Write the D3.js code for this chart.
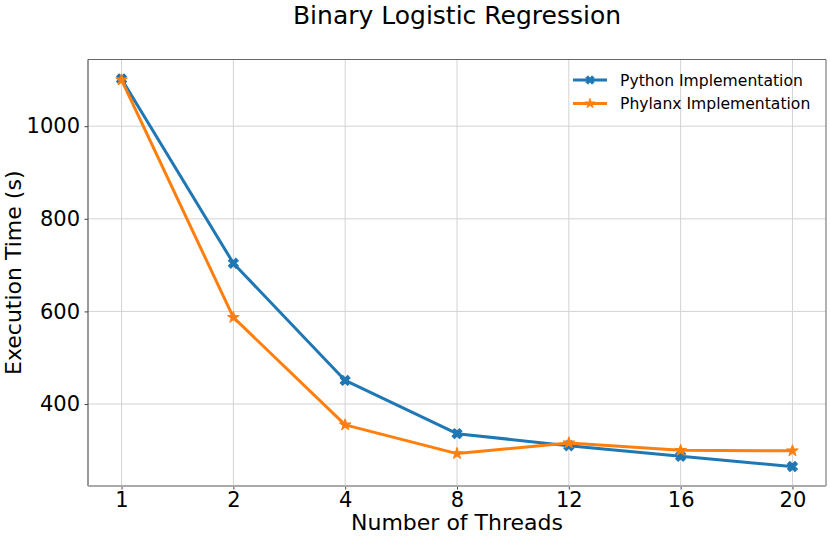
<!DOCTYPE html>
<html>
<head>
<meta charset="utf-8">
<script src="https://cdn.jsdelivr.net/npm/d3@7"></script>
<style>
  body { margin: 0; background: #fff; }
  text { font-family: "DejaVu Sans", sans-serif; }
</style>
</head>
<body>
<svg id="chart" width="830" height="536"></svg>
<script>
// thread counts (categorical x axis)
const threads = ["1", "2", "4", "8", "12", "16", "20"];
// execution times in seconds
const pythonTimes = [1102, 704, 451, 336, 310, 287, 265];
const phylanxTimes = [1100, 587, 355, 293, 316, 300, 299];
const yTicks = [400, 600, 800, 1000];

const seriesList = [
    { name: "Python Implementation", values: pythonTimes, color: "#1f77b4", marker: "x" },
    { name: "Phylanx Implementation", values: phylanxTimes, color: "#ff7f0e", marker: "star" }
];

const svg = d3.select("#chart");
const plot = { left: 88, right: 826, top: 59.5, bottom: 486 };

const x = d3.scalePoint()
    .domain(threads)
    .range([plot.left, plot.right])
    .padding(0.3);

const y = d3.scaleLinear()
    .domain([223, 1144])
    .range([plot.bottom, plot.top]);

//grid lines
svg.append("g")
    .selectAll("line.vgrid")
    .data(threads)
    .enter()
    .append("line")
    .attr("x1", d => x(d))
    .attr("x2", d => x(d))
    .attr("y1", plot.top)
    .attr("y2", plot.bottom)
    .attr("stroke", "#d3d3d3")
    .attr("stroke-width", 1);

svg.append("g")
    .selectAll("line.hgrid")
    .data(yTicks)
    .enter()
    .append("line")
    .attr("x1", plot.left)
    .attr("x2", plot.right)
    .attr("y1", d => y(d))
    .attr("y2", d => y(d))
    .attr("stroke", "#d3d3d3")
    .attr("stroke-width", 1);

//axes
const xAxis = svg.append("g")
    .attr("transform", `translate(0, ${plot.bottom})`)
    .call(d3.axisBottom(x).tickSize(3.5).tickPadding(2.5));
xAxis.select(".domain").remove();
xAxis.selectAll("line").attr("stroke", "#444");
xAxis.selectAll("text")
    .style("font-size", "21px")
    .attr("fill", "#000");

const yAxis = svg.append("g")
    .attr("transform", `translate(${plot.left}, 0)`)
    .call(d3.axisLeft(y).tickValues(yTicks).tickFormat(d3.format("d")).tickSize(3.5).tickPadding(4.5));
yAxis.select(".domain").remove();
yAxis.selectAll("line").attr("stroke", "#444");
yAxis.selectAll("text")
    .style("font-size", "21px")
    .attr("fill", "#000");

//spines
svg.append("line")
    .attr("x1", plot.left).attr("x2", plot.right)
    .attr("y1", plot.top).attr("y2", plot.top)
    .attr("stroke", "#666").attr("stroke-width", 1);
svg.append("line")
    .attr("x1", plot.right).attr("x2", plot.right)
    .attr("y1", plot.top).attr("y2", plot.bottom)
    .attr("stroke", "#666").attr("stroke-width", 1);
svg.append("line")
    .attr("x1", plot.left).attr("x2", plot.left)
    .attr("y1", plot.top).attr("y2", plot.bottom)
    .attr("stroke", "#555").attr("stroke-width", 1.2);
svg.append("line")
    .attr("x1", plot.left).attr("x2", plot.right)
    .attr("y1", plot.bottom).attr("y2", plot.bottom)
    .attr("stroke", "#aaa").attr("stroke-width", 2);

//marker shapes
const xMarker = d3.symbol().type(d3.symbolCross).size(62)();
const starMarker = d3.symbol().type(d3.symbolStar).size(42)();
const markerPath = m => m === "x" ? xMarker : starMarker;
const markerRotate = m => m === "x" ? 45 : 0;

//lines and markers
const line = d3.line()
    .x((d, i) => x(threads[i]))
    .y(d => y(d));

seriesList.forEach(s => {
    svg.append("path")
        .datum(s.values)
        .attr("fill", "none")
        .attr("stroke", s.color)
        .attr("stroke-width", 3)
        .attr("stroke-linejoin", "round")
        .attr("stroke-linecap", "square")
        .attr("d", line);

    svg.append("g")
        .selectAll("path")
        .data(s.values)
        .enter()
        .append("path")
        .attr("d", markerPath(s.marker))
        .attr("transform", (d, i) => `translate(${x(threads[i])}, ${y(d)}) rotate(${markerRotate(s.marker)})`)
        .attr("fill", s.color)
        .attr("stroke", s.color)
        .attr("stroke-width", 1);
});

//legend
const legend = svg.selectAll(".legend")
    .data(seriesList)
    .enter()
    .append("g")
    .attr("class", "legend")
    .attr("transform", (d, i) => `translate(573, ${80 + i * 23.5})`);

legend.append("line")
    .attr("x1", 0).attr("x2", 34)
    .attr("y1", 0).attr("y2", 0)
    .attr("stroke", d => d.color)
    .attr("stroke-width", 3);

legend.append("path")
    .attr("d", d => markerPath(d.marker))
    .attr("transform", d => `translate(17, 0) rotate(${markerRotate(d.marker)}) scale(0.85)`)
    .attr("fill", d => d.color)
    .attr("stroke", d => d.color)
    .attr("stroke-width", 1);

legend.append("text")
    .attr("x", 47)
    .attr("y", 5.5)
    .style("font-size", "15.6px")
    .text(d => d.name);

//axis labels
svg.append("text")
    .attr("x", (plot.left + plot.right) / 2)
    .attr("y", 530)
    .attr("text-anchor", "middle")
    .style("font-size", "22px")
    .text("Number of Threads");

svg.append("text")
    .attr("transform", "rotate(-90)")
    .attr("x", -(plot.top + plot.bottom) / 2)
    .attr("y", 21)
    .attr("text-anchor", "middle")
    .style("font-size", "22px")
    .text("Execution Time (s)");

//title
svg.append("text")
    .attr("x", (plot.left + plot.right) / 2)
    .attr("y", 24)
    .attr("text-anchor", "middle")
    .style("font-size", "25px")
    .text("Binary Logistic Regression");
</script>
</body>
</html>
